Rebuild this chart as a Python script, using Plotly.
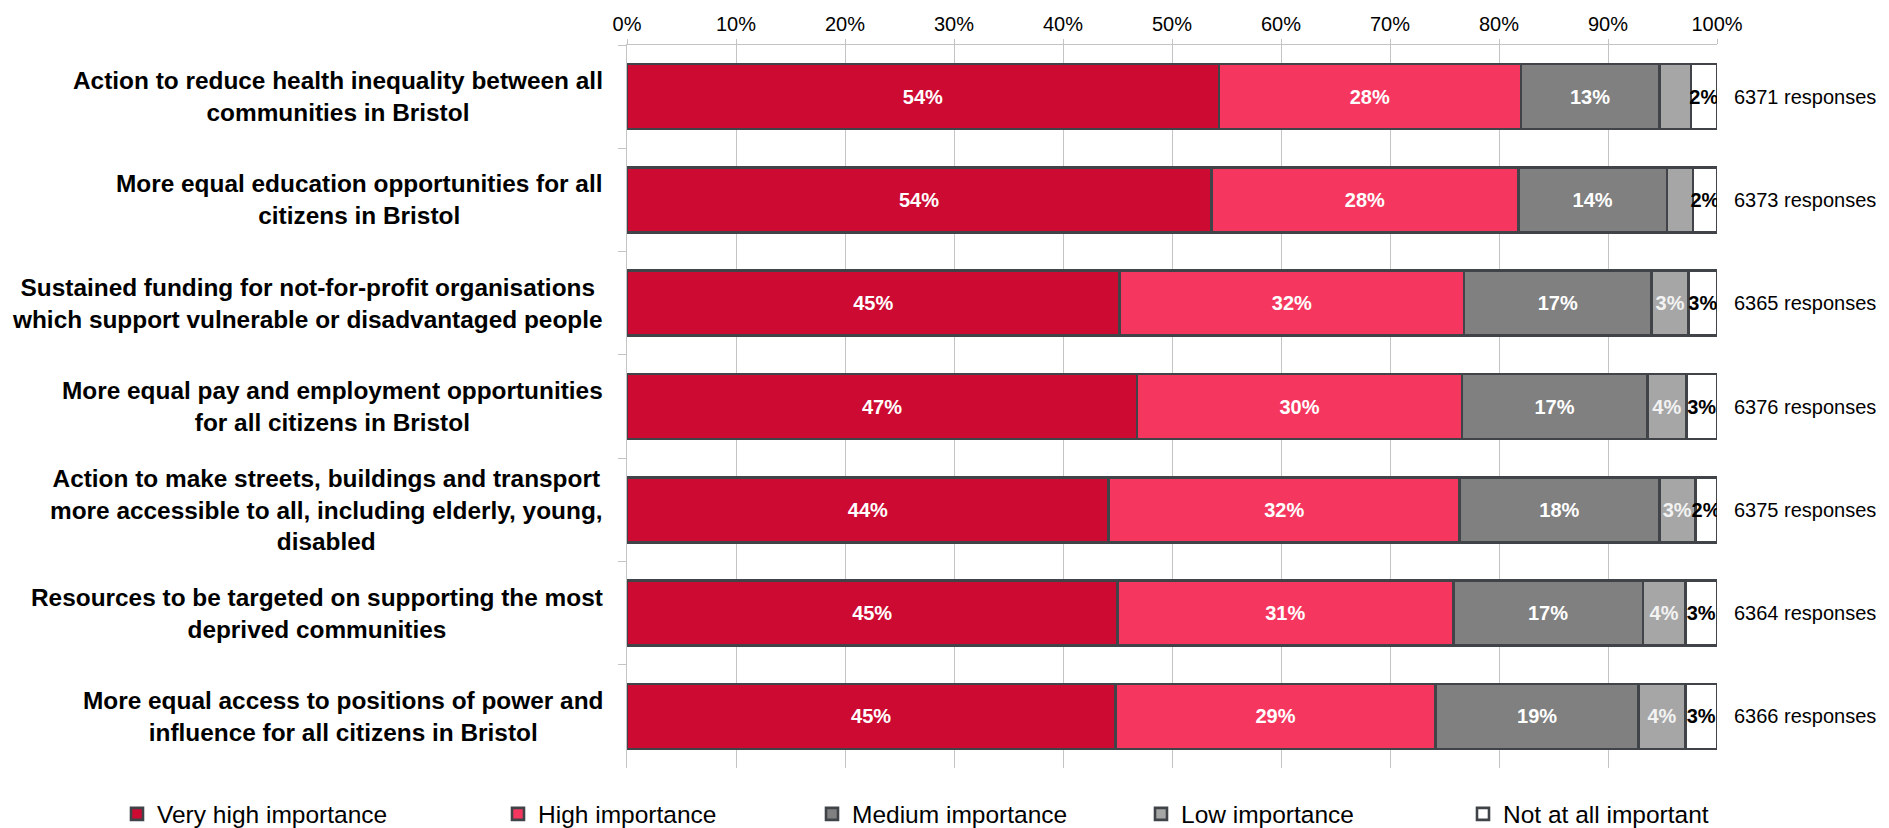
import plotly.graph_objects as go

categories = [
    "Action to reduce health inequality between all<br>communities in Bristol",
    "More equal education opportunities for all<br>citizens in Bristol",
    "Sustained funding for not-for-profit organisations<br>which support vulnerable or disadvantaged people",
    "More equal pay and employment opportunities<br>for all citizens in Bristol",
    "Action to make streets, buildings and transport<br>more accessible to all, including elderly, young,<br>disabled",
    "Resources to be targeted on supporting the most<br>deprived communities",
    "More equal access to positions of power and<br>influence for all citizens in Bristol",
]

very_high = [54.3, 53.6, 45.2, 46.8, 44.2, 45.0, 44.8]
high = [27.7, 28.2, 31.6, 29.8, 32.2, 30.8, 29.4]
medium = [12.7, 13.6, 17.2, 17.0, 18.3, 17.4, 18.6]
low = [2.9, 2.4, 3.4, 3.6, 3.3, 3.9, 4.3]
not_at_all = [2.4, 2.2, 2.6, 2.8, 2.0, 2.9, 2.9]

low_labels = ["", "", "3%", "4%", "3%", "4%", "4%"]
responses = [6371, 6373, 6365, 6376, 6375, 6364, 6366]

series_names = ["Very high importance", "High importance", "Medium importance",
                "Low importance", "Not at all important"]
tick_vals = [0, 10, 20, 30, 40, 50, 60, 70, 80, 90, 100]
tick_text = ["0%", "10%", "20%", "30%", "40%", "50%", "60%", "70%", "80%", "90%", "100%"]

FONT = "Arial, Liberation Sans, sans-serif"
BORDER = "#404448"
colors = ["#CC0A32", "#F5375F", "#808080", "#A6A6A6", "#FFFFFF"]
text_colors = ["#FFFFFF", "#FFFFFF", "#FFFFFF", "#F2F2F2", "#000000"]

# page is offset by the 8px default body margin
W, H = 1881, 820
legend_px = [117, 498, 812, 1141, 1463]
legend_ids = ["legend", "legend2", "legend3", "legend4", "legend5"]

def pct(vals):
    return [f"{round(v)}%" for v in vals]

series_values = [very_high, high, medium, low, not_at_all]
series_text = [pct(very_high), pct(high), pct(medium), low_labels, pct(not_at_all)]

fig = go.Figure()
for name, vals, txt, col, tcol, lid in zip(series_names, series_values, series_text,
                                            colors, text_colors, legend_ids):
    fig.add_trace(go.Bar(
        y=categories, x=vals, orientation="h",
        name=name, legend=lid,
        marker=dict(color=col, line=dict(color=BORDER, width=2.6)),
        width=0.63,
        text=txt, textposition="inside", insidetextanchor="middle",
        textangle=0, constraintext="none",
        textfont=dict(family=FONT, size=20, color=tcol, weight="bold"),
        hoverinfo="skip",
    ))

annotations = []
for cat, n in zip(categories, responses):
    annotations.append(dict(
        x=0, xref="paper", y=cat, yref="y", text=cat, showarrow=False,
        xanchor="right", yanchor="middle", align="center", xshift=-22,
        font=dict(family=FONT, size=24.4, color="#000000", weight="bold"),
    ))
    annotations.append(dict(
        x=1, xref="paper", y=cat, yref="y", text=f"{n} responses", showarrow=False,
        xanchor="left", yanchor="middle", align="left", xshift=15,
        font=dict(family=FONT, size=20, color="#000000"),
    ))

legend_layouts = {}
for lid, px in zip(legend_ids, legend_px):
    legend_layouts[lid] = dict(
        orientation="h", xref="container", yref="container",
        x=(px - 8) / W, y=1 - (814 - 8) / H, xanchor="left", yanchor="middle",
        font=dict(family=FONT, size=24.5, color="#000000"),
        itemclick=False, itemdoubleclick=False, bgcolor="rgba(0,0,0,0)",
    )

fig.update_layout(
    width=W, height=H,
    barmode="stack",
    bargap=0.37,
    plot_bgcolor="#FFFFFF", paper_bgcolor="#FFFFFF",
    margin=dict(l=619, r=172, t=37, b=60, autoexpand=False),
    font=dict(family=FONT, color="#000000"),
    xaxis=dict(
        side="top", range=[0, 100], tickvals=tick_vals, ticktext=tick_text,
        showgrid=True, gridcolor="#C4C4C4", gridwidth=1,
        showline=True, linecolor="#C4C4C4", linewidth=1,
        ticks="outside", ticklen=5, tickcolor="#C4C4C4",
        tickfont=dict(family=FONT, size=20, color="#000000"),
        zeroline=False, fixedrange=True,
    ),
    yaxis=dict(
        autorange="reversed", showticklabels=False,
        showline=True, linecolor="#C4C4C4", linewidth=1,
        ticks="outside", ticklen=8, tickcolor="#C4C4C4", tickson="boundaries",
        showgrid=False, fixedrange=True,
    ),
    annotations=annotations,
    showlegend=True,
    **legend_layouts,
)

fig.write_html("out.html")
